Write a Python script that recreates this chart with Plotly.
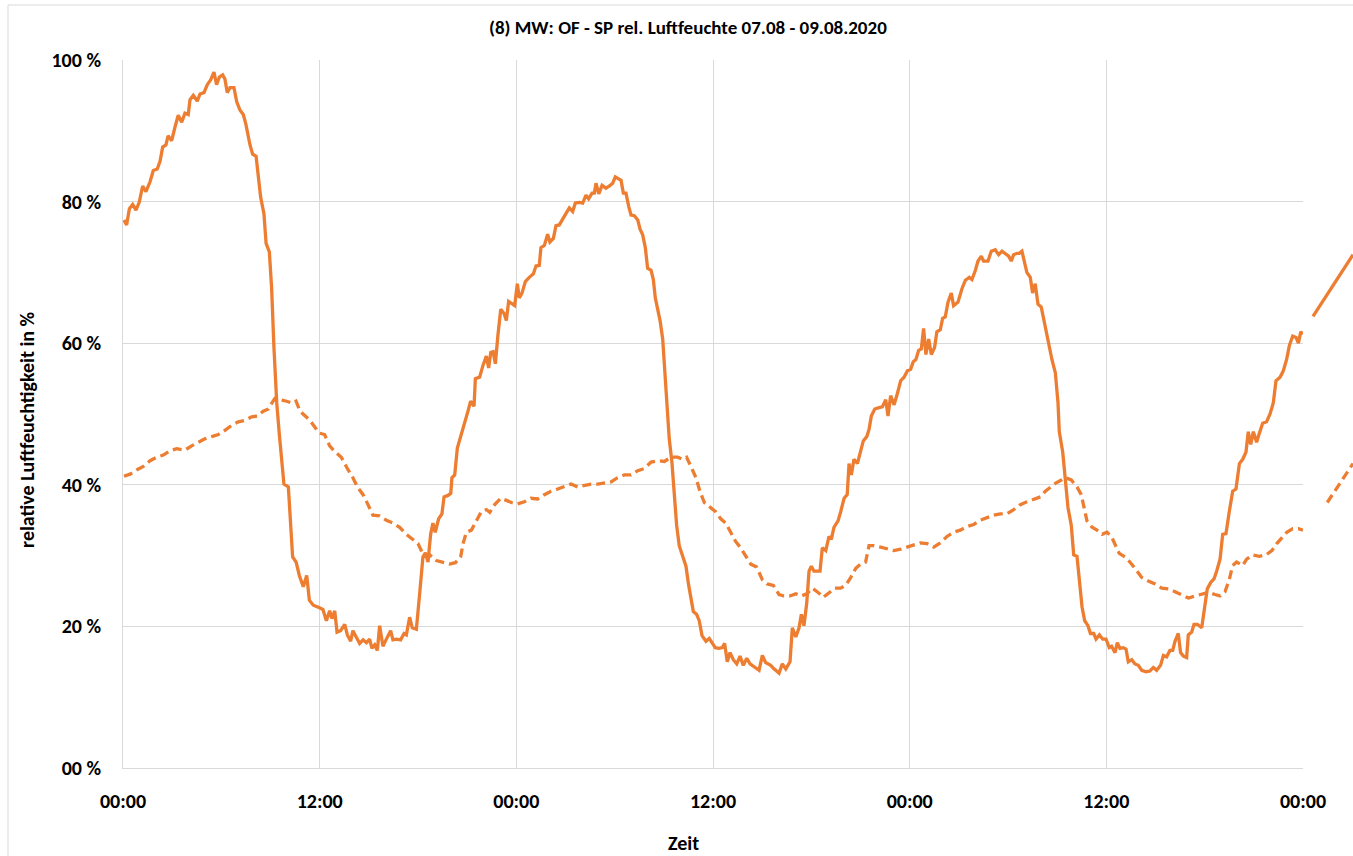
import plotly.graph_objects as go

# ---- data (hours since 07.08.2020 00:00, relative humidity in %) ----
hours_of = [0.06, 0.22, 0.39, 0.59, 0.79, 0.99, 1.2, 1.4, 1.65, 1.85, 2.09, 2.26, 2.42, 2.62, 2.75, 2.97,
            3.17, 3.37, 3.58, 3.78, 3.98, 4.09, 4.29, 4.53, 4.7, 4.94, 5.14, 5.35, 5.55, 5.71, 5.88, 6.08,
            6.22, 6.36, 6.53, 6.77, 6.94, 7.14, 7.34, 7.5, 7.75, 7.91, 8.12, 8.26, 8.4, 8.6, 8.73, 8.93,
            9.07, 9.21, 9.38, 9.54, 9.69, 9.82, 10.09, 10.23, 10.35, 10.56, 10.76, 11.0, 11.21, 11.37,
            11.61, 11.92,
            12.2, 12.41, 12.61, 12.75, 12.92, 13.06, 13.28, 13.53, 13.69, 13.89, 14.03, 14.23, 14.44,
            14.65, 14.85, 15.05, 15.19, 15.36, 15.52, 15.66, 15.86, 16.07, 16.33, 16.47, 16.68, 16.94,
            17.15, 17.29, 17.49, 17.65, 17.9, 18.1, 18.3, 18.45, 18.61, 18.77, 18.91, 19.05, 19.26,
            19.46, 19.59, 19.83, 20.0, 20.07, 20.24, 20.4, 20.6, 20.85, 21.05, 21.21, 21.42, 21.5,
            21.76, 21.97, 22.17, 22.31, 22.44, 22.58, 22.72, 22.88, 23.05, 23.25, 23.39, 23.53, 23.73,
            23.9, 24.06,
            24.18, 24.35, 24.55, 24.79, 25.04, 25.2, 25.4, 25.5, 25.71, 25.91, 26.05, 26.26, 26.42,
            26.62, 26.83, 27.03, 27.23, 27.44, 27.6, 27.84, 28.05, 28.25, 28.41, 28.62, 28.76, 28.86,
            29.03, 29.23, 29.47, 29.68, 29.88, 30.04, 30.18, 30.39, 30.53, 30.69, 30.86, 31.0, 31.2,
            31.41, 31.55, 31.71, 31.87, 32.01, 32.22, 32.36, 32.48, 32.62, 32.77, 32.93, 33.09, 33.23,
            33.33, 33.49, 33.63, 33.78, 33.94, 34.15, 34.35, 34.51, 34.65, 34.8, 35.0, 35.16, 35.33,
            35.57, 35.77, 35.98, 36.14,
            36.37, 36.57, 36.71, 36.87, 37.04, 37.24, 37.45, 37.65, 37.85, 38.06, 38.26, 38.5, 38.81,
            39.01, 39.21, 39.52, 39.72, 40.03, 40.23, 40.44, 40.7, 40.84, 41.05, 41.25, 41.39, 41.55,
            41.72, 41.86, 42.0, 42.16, 42.37, 42.53, 42.67, 42.88, 43.08, 43.22, 43.38, 43.63, 43.79,
            44.0, 44.19, 44.3, 44.44, 44.6, 44.81, 45.01, 45.17, 45.38, 45.52, 45.66, 45.87, 46.13,
            46.33, 46.54, 46.68, 46.84, 47.05, 47.25, 47.45, 47.66, 47.86, 48.06, 48.22,
            48.38, 48.55, 48.71, 48.85, 48.99, 49.16, 49.32, 49.52, 49.66, 49.87, 50.01, 50.17, 50.34,
            50.54, 50.68, 50.95, 51.19, 51.4, 51.64, 51.8, 52.01, 52.17, 52.37, 52.51, 52.78, 52.98,
            53.22, 53.43, 53.63, 53.83, 54.04, 54.2, 54.34, 54.55, 54.69, 54.85, 55.01, 55.15, 55.36,
            55.5, 55.66, 55.83, 56.03, 56.24, 56.48, 56.68, 56.89, 57.05, 57.13, 57.34, 57.5, 57.66,
            57.86, 58.01, 58.21, 58.35, 58.52, 58.68, 58.88, 59.03, 59.23, 59.37, 59.58, 59.78, 59.98,
            60.18,
            60.32, 60.53, 60.67, 60.83, 61.03, 61.2, 61.34, 61.55, 61.75, 61.95, 62.16, 62.42, 62.66,
            62.87, 63.07, 63.31, 63.48, 63.68, 63.88, 64.05, 64.19, 64.39, 64.53, 64.7, 64.9, 65.0,
            65.21, 65.35, 65.55, 65.82, 65.96, 66.16, 66.37, 66.57, 66.73, 66.94, 67.1, 67.3, 67.5,
            67.71, 67.91, 68.12, 68.32, 68.52, 68.66, 68.81, 68.97, 69.17, 69.34, 69.54, 69.78, 69.99,
            70.19, 70.35, 70.6, 70.8, 71.0, 71.17, 71.37, 71.58, 71.72, 71.86, 72.0]
rh_of = [77.4, 76.7, 79.0, 79.6, 78.8, 79.9, 82.2, 81.4, 82.8, 84.4, 84.6, 85.7, 87.7, 88.0, 89.3, 88.6,
         90.5, 92.2, 91.2, 92.5, 92.3, 94.4, 95.0, 94.2, 95.2, 95.4, 96.5, 97.2, 98.3, 96.5, 97.6, 97.9,
         97.3, 95.4, 96.1, 96.1, 94.1, 92.9, 92.3, 90.9, 88.0, 86.7, 86.4, 83.8, 80.6, 78.3, 74.1, 72.9,
         67.7, 59.4, 51.6, 47.1, 43.9, 40.1, 39.7, 34.9, 29.8, 29.1, 27.2, 25.6, 27.2, 23.7,
         23.0, 22.7,
         22.4, 20.8, 22.2, 21.1, 22.2, 19.2, 19.4, 20.3, 18.8, 17.9, 19.4, 18.5, 17.6,
         18.1, 17.7, 18.2, 16.9, 17.4, 16.6, 20.1, 17.2, 18.2, 19.4, 18.1, 18.2, 18.1,
         19.0, 18.8, 21.3, 19.8, 19.6, 24.6, 29.8, 30.4, 29.1, 33.0, 34.6, 33.3, 35.2,
         35.9, 38.3, 38.5, 38.8, 41.0, 41.4, 45.2, 46.8, 48.4, 50.4, 51.8, 51.1, 55.0,
         55.2, 56.9, 58.2, 56.5, 58.7, 58.8, 57.1, 61.2, 64.8, 64.2, 63.2, 65.9, 65.5,
         65.3, 68.4,
         66.4, 67.1, 68.7, 69.3, 69.8, 70.9, 71.0, 73.5, 73.8, 75.4, 74.3, 74.8, 76.6,
         76.7, 77.5, 78.3, 79.1, 78.6, 79.8, 79.9, 79.8, 80.9, 80.4, 81.2, 81.2, 82.6,
         81.1, 82.3, 81.9, 82.2, 82.6, 83.5, 83.3, 83.0, 81.2, 81.2, 79.3, 78.1, 78.0,
         77.4, 76.1, 75.3, 73.5, 70.6, 70.3, 69.0, 66.4, 64.8, 63.2, 60.6, 55.5, 50.4,
         46.5, 43.3, 38.8, 34.3, 31.4, 29.8, 28.5, 25.9, 24.3, 22.1, 21.7, 20.8, 18.7,
         17.9, 18.3, 17.6, 17.0,
         16.9, 17.0, 17.6, 15.0, 16.3, 15.3, 14.7, 15.8, 14.5, 15.5, 14.7, 14.3, 13.8,
         15.9, 14.9, 14.5, 14.0, 13.4, 14.7, 14.0, 15.0, 19.8, 18.5, 19.8, 21.7, 20.1,
         23.3, 27.8, 28.5, 27.8, 27.8, 27.8, 31.1, 30.7, 32.7, 32.3, 34.0, 34.9, 36.2,
         38.1, 38.6, 43.0, 41.4, 43.6, 43.0, 44.6, 46.2, 46.8, 47.8, 49.7, 50.7, 50.9,
         51.0, 52.0, 49.7, 52.6, 51.3, 52.9, 54.7, 55.2, 56.1, 56.3, 57.4,
         57.7, 59.0, 59.2, 62.1, 58.4, 60.6, 58.4, 59.4, 61.6, 61.9, 63.5, 63.7, 65.8,
         67.1, 65.3, 65.8, 67.7, 68.9, 69.3, 69.0, 70.3, 71.6, 72.3, 71.6, 71.6, 73.0,
         73.2, 72.5, 73.0, 72.7, 72.3, 71.6, 72.5, 72.7, 72.7, 73.0, 71.3, 70.0, 69.3,
         67.1, 68.4, 65.5, 65.1, 62.6, 60.0, 57.7, 55.8, 51.6, 47.5, 44.6, 40.7, 36.8,
         34.3, 30.1, 29.9, 26.6, 22.7, 20.8, 20.1, 19.0, 19.0, 18.2, 18.8, 18.2, 18.2,
         17.0,
         17.2, 16.3, 17.7, 16.9, 17.0, 16.8, 15.0, 15.3, 14.7, 14.5, 13.8, 13.6, 13.7,
         14.2, 13.8, 14.5, 15.9, 15.7, 16.6, 16.6, 17.9, 19.0, 16.3, 15.8, 15.6, 18.8,
         19.2, 20.3, 20.3, 19.8, 21.9, 25.3, 26.2, 26.7, 27.8, 29.5, 33.0, 33.1, 36.2,
         39.1, 39.4, 43.0, 43.6, 44.6, 47.5, 45.7, 47.5, 46.0, 47.3, 48.7, 48.9, 50.0,
         51.6, 54.7, 55.2, 56.1, 57.7, 59.7, 61.0, 60.8, 60.0, 61.6, 61.3]

hours_sp = [0.06, 0.43, 0.83, 1.24, 1.65, 2.06, 2.46, 2.87, 3.28, 3.78, 4.19, 4.6, 5.0, 5.41, 5.82, 6.22,
            6.63, 7.04, 7.44, 7.85, 8.19, 8.56, 8.87, 9.07, 9.27, 9.58, 9.99, 10.35, 10.56, 10.8, 11.1,
            11.41, 11.72, 11.98,
            12.3, 12.61, 12.92, 13.32, 13.69, 14.03, 14.3, 14.65, 14.95, 15.25, 15.66, 16.07, 16.47,
            16.88, 17.29, 17.69, 18.0, 18.37, 18.71, 19.12, 19.53, 19.93, 20.28, 20.6, 20.75, 20.95,
            21.26, 21.56, 21.86, 22.17, 22.38, 22.68, 23.05, 23.39, 23.7, 24.06,
            24.49, 24.89, 25.3, 25.71, 26.12, 26.52, 26.93, 27.34, 27.74, 28.15, 28.56, 28.96, 29.37,
            29.78, 30.18, 30.59, 31.0, 31.41, 31.81, 32.22, 32.62, 33.03, 33.44, 33.84, 34.15, 34.39,
            34.65, 34.96, 35.2, 35.47, 35.73, 35.98, 36.16,
            36.47, 36.77, 37.08, 37.38, 37.69, 37.99, 38.3, 38.66, 39.01, 39.31, 39.68, 40.03, 40.33,
            40.7, 41.05, 41.39, 41.72, 42.06, 42.41, 42.73, 43.08, 43.43, 43.79, 44.1, 44.4, 44.71,
            45.01, 45.31, 45.52, 45.82, 46.23, 46.63, 47.04, 47.45, 47.86, 48.22,
            48.65, 49.06, 49.47, 49.87, 50.28, 50.68, 51.09, 51.5, 51.91, 52.31, 52.72, 53.13, 53.53,
            53.94, 54.35, 54.75, 55.16, 55.57, 55.98, 56.28, 56.59, 56.89, 57.2, 57.5, 57.86, 58.21,
            58.47, 58.62, 58.82, 59.13, 59.43, 59.74, 60.04, 60.31,
            60.53, 60.79, 61.14, 61.44, 61.81, 62.16, 62.56, 62.97, 63.38, 63.79, 64.19, 64.6, 65.01,
            65.42, 65.82, 66.23, 66.63, 66.94, 67.24, 67.5, 67.71, 67.95, 68.32, 68.56, 68.93, 69.34,
            69.75, 70.1, 70.4, 70.71, 71.01, 71.38, 71.72, 72.0]
rh_sp = [41.2, 41.5, 42.1, 42.6, 43.4, 43.9, 44.2, 44.8, 45.1, 44.9, 45.5, 46.0, 46.5, 46.8, 47.1, 47.7,
         48.4, 48.9, 49.1, 49.6, 49.7, 50.4, 50.7, 51.5, 52.2, 52.0, 51.8, 51.5, 51.8, 50.4, 49.7,
         49.1, 48.1, 47.3,
         47.1, 45.5, 44.7, 43.9, 42.3, 41.0, 39.7, 38.6, 37.2, 35.7, 35.6, 35.0, 34.6,
         34.0, 33.0, 32.3, 31.7, 29.9, 30.1, 29.3, 29.1, 28.8, 29.0, 29.8, 31.7, 33.3,
         33.6, 34.8, 36.2, 36.5, 36.1, 37.2, 38.1, 37.8, 37.5, 37.3,
         37.6, 38.1, 38.0, 38.6, 39.1, 39.4, 39.7, 40.1, 39.7, 39.9, 40.1, 40.1, 40.2,
         40.4, 41.0, 41.4, 41.4, 42.0, 42.3, 43.2, 43.4, 43.3, 43.9, 43.9, 43.6, 43.9,
         42.6, 41.0, 39.1, 37.5, 37.0, 36.5, 36.2,
         35.2, 34.6, 33.3, 32.0, 31.1, 29.9, 28.8, 28.4, 26.6, 26.0, 25.8, 24.5, 24.3,
         24.3, 24.6, 24.3, 24.6, 25.4, 24.8, 24.1, 24.8, 25.4, 25.4, 25.8, 26.9, 28.2,
         28.8, 29.1, 31.4, 31.4, 31.2, 30.9, 30.7, 30.9, 31.2, 31.4,
         31.8, 31.7, 31.2, 31.8, 32.7, 33.3, 33.6, 34.1, 34.4, 35.0, 35.4, 35.7, 35.9,
         35.9, 36.5, 37.2, 37.6, 38.0, 38.3, 39.1, 39.7, 40.2, 40.6, 41.0, 40.7, 39.7,
         38.6, 36.8, 34.9, 34.0, 33.6, 33.0, 33.3, 32.7,
         31.6, 30.3, 29.8, 29.1, 28.0, 26.9, 26.4, 26.0, 25.4, 25.3, 24.9, 24.5, 24.0,
         24.3, 24.5, 24.8, 24.5, 24.3, 24.9, 26.6, 28.6, 29.1, 28.6, 29.5, 30.1, 29.9,
         30.1, 30.7, 31.7, 32.5, 33.3, 33.8, 33.8, 33.6]

# continuation segments drawn beyond the last 00:00 tick
hours_of_next = [72.61, 75.05]
rh_of_next = [63.8, 72.5]
hours_sp_next = [73.48, 75.05]
rh_sp_next = [37.5, 43.0]

tick_hours = [0, 12, 24, 36, 48, 60, 72]
tick_time_labels = ["00:00", "12:00", "00:00", "12:00", "00:00", "12:00", "00:00"]
tick_rh = [0, 20, 40, 60, 80, 100]
tick_rh_labels = ["00 %", "20 %", "40 %", "60 %", "80 %", "100 %"]

TITLE = "(8) MW: OF - SP rel. Luftfeuchte 07.08 - 09.08.2020"
ORANGE = "#ED7D31"
GRID = "#d9d9d9"
FONT = "Carlito, Lato, sans-serif"

W, H = 1353, 856
L, R, T, B = 123, 0, 60, 88
plot_w = W - L - R
split = (1303 - L) / plot_w

fig = go.Figure()
fig.add_trace(go.Scatter(x=hours_of, y=rh_of, mode="lines", name="OF",
                         line=dict(color=ORANGE, width=3.3), xaxis="x", yaxis="y"))
fig.add_trace(go.Scatter(x=hours_sp, y=rh_sp, mode="lines", name="SP",
                         line=dict(color=ORANGE, width=3.3, dash="9px,5px"), xaxis="x", yaxis="y"))
fig.add_trace(go.Scatter(x=hours_of_next, y=rh_of_next, mode="lines", name="OF",
                         line=dict(color=ORANGE, width=3.3), xaxis="x2", yaxis="y2"))
fig.add_trace(go.Scatter(x=hours_sp_next, y=rh_sp_next, mode="lines", name="SP",
                         line=dict(color=ORANGE, width=3.3, dash="9px,5px"), xaxis="x2", yaxis="y2"))

def px_to_paper_x(px):
    return (px - L) / plot_w

def px_to_paper_y(py):
    return (H - B - py) / (H - T - B)

fig.update_layout(
    width=W, height=H,
    margin=dict(l=L, r=R, t=T, b=B, autoexpand=False),
    paper_bgcolor="white", plot_bgcolor="white",
    showlegend=False,
    font=dict(family=FONT, color="#000000"),
    xaxis=dict(domain=[0, split], range=[0, 72], anchor="y", automargin=False,
               tickmode="array", tickvals=tick_hours, ticktext=tick_time_labels,
               showgrid=True, gridcolor=GRID, gridwidth=1,
               showline=True, linecolor=GRID, linewidth=1,
               zeroline=False, ticks="", ticklabelstandoff=15,
               tickfont=dict(family=FONT, size=20, color="#000000", weight="bold")),
    yaxis=dict(domain=[0, 1], range=[0, 100], anchor="x", automargin=False,
               tickmode="array", tickvals=tick_rh, ticktext=tick_rh_labels,
               showgrid=True, gridcolor=GRID, gridwidth=1,
               showline=True, linecolor=GRID, linewidth=1,
               zeroline=False, ticks="", ticklabelstandoff=17,
               tickfont=dict(family=FONT, size=20, color="#000000", weight="bold")),
    xaxis2=dict(domain=[split, 1], range=[72, 75.05], anchor="y2", visible=False,
                showgrid=False, zeroline=False, automargin=False),
    yaxis2=dict(domain=[0, 1], range=[0, 100], anchor="x2", visible=False,
                showgrid=False, zeroline=False, automargin=False),
    shapes=[dict(type="rect", xref="paper", yref="paper",
                 x0=px_to_paper_x(8), x1=px_to_paper_x(1400),
                 y0=px_to_paper_y(900), y1=px_to_paper_y(5),
                 line=dict(color=GRID, width=1), fillcolor="rgba(0,0,0,0)", layer="below")],
    annotations=[
        dict(text=TITLE, xref="paper", yref="paper", x=px_to_paper_x(688), y=px_to_paper_y(28),
             showarrow=False, xanchor="center", yanchor="middle",
             font=dict(family=FONT, size=19, color="#000000", weight="bold")),
        dict(text="Zeit", xref="paper", yref="paper", x=px_to_paper_x(683), y=px_to_paper_y(843),
             showarrow=False, xanchor="center", yanchor="middle",
             font=dict(family=FONT, size=20, color="#000000", weight="bold")),
        dict(text="relative Luftfeuchtigkeit in %", xref="paper", yref="paper",
             x=px_to_paper_x(27), y=px_to_paper_y(430), textangle=-90,
             showarrow=False, xanchor="center", yanchor="middle",
             font=dict(family=FONT, size=20, color="#000000", weight="bold")),
    ],
)

fig.write_html("out.html")
